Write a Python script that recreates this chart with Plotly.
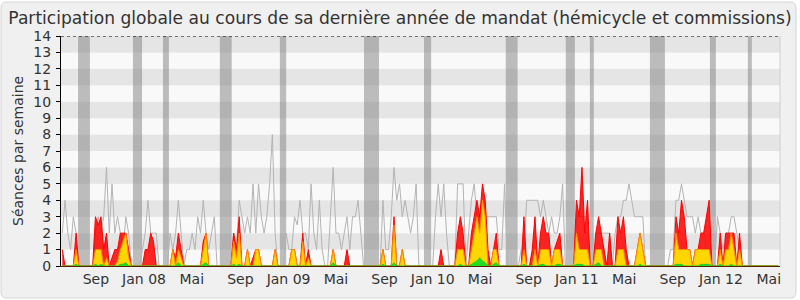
import pandas as pd
import plotly.graph_objects as go

# ---------------- data ----------------
start_week = "2007-06-08"

presences = [
 1,0,0,0,0,2,0,0,0,0, 0,0,3,2.5,3,1,2,0,0.5,1, 1,2,2,2,1,0,0,0,0,0,
 1,1,2,1.5,0,0,0,0,0,0, 1,0.5,2,1,0,0,0,0,0,0, 0,1.5,2,0,0,0,0,0,0,0,
 0,0,2,1,3,0,0,1,0,0.5, 1,1,0,0,0,0,0,1,0,0, 0,0,0,1,1,0,0,2,0,1,
 0,0,0,0,0,0,0,0,1,0, 0,0,0,1,0,0,0,0,0,0, 0,0,0,0,0,0,1,0,0,0,
 3,0,0,1,0,0,0,0,0,0, 0,0,0,0,0,0,0,1,0,0, 0,0,0,2,3,2,0,0,2,3,
 4,3,5,4,1,0,1,2,0,0, 0,0,0,0,0,0,0,3,0,0, 1,3,0,2,3,2,2,0,1,1.5,
 2,0,0,0,0,0,4,3,6,2, 4,0,0,2,3,2,1,0,2,0, 0,3,2,3,1,0,0,0,1,2,
 1,0,0,0,0,0,0,0,0,0, 0,0,3,2,4,3,1,1,0,1, 1,2,2,3,4,0,0,0,2,0,
 2,2,2,2,0,2,0,0,0,0, 0,0,0,0,0,0,0,0,0,0,
]
participations = [
 0,0,0,0,0,1,0,0,0,0, 0,0,1,1,1,0,0.5,0,0,0, 0.3,1,1.5,2,0.5,0,0,0,0,0,
 0,0,0,0,0,0,0,0,0,0, 1,0,1,0.5,0,0,0,0,0,0, 0,1,2,0,0,0,0,0,0,0,
 0,0,1.5,0.5,2,0,0,1,0,0, 1,1,0,0,0,0,0,1,0,0, 0,0,0,1,1,0,0,1.5,0,0.5,
 0,0,0,0,0,0,0,0,1,0, 0,0,0,0,0,0,0,0,0,0, 0,0,0,0,0,0,1,0,0,0,
 2.5,0,0,1,0,0,0,0,0,0, 0,0,0,0,0,0,0,0,0,0, 0,0,0,1,1,1,0,0,1,2,
 3,2,4,3,0,0,1,1,0,0, 0,0,0,0,0,0,0,1,0,0, 0,1,0,1,1,1,1,0,1,1,
 1,0,0,0,0,0,2,1,1,1, 1,0,0,1,1,1,0,0,0,0, 0,1,1,1,0,0,0,0,1,2,
 1,0,0,0,0,0,0,0,0,0, 0,0,2,1,1,1,1,1,0,1, 1,1,1,1,1,0,0,0,1,0,
 1,1,2,1,0,1,0,0,0,0, 0,0,0,0,0,0,0,0,0,0,
]
questions = [
 0,0,0,0,0,0.1,0,0,0,0, 0,0,0.1,0,0.1,0,0,0,0,0, 0,0.1,0.1,0.2,0,0,0,0,0,0,
 0,0,0,0,0,0,0,0,0,0, 0,0,0.2,0,0,0,0,0,0,0, 0,0.1,0.2,0,0,0,0,0,0,0,
 0,0,0.1,0,0.1,0,0,0,0,0, 0,0,0,0,0,0,0,0,0,0, 0,0,0,0,0,0,0,0,0,0,
 0,0,0,0,0,0,0,0,0.2,0, 0,0,0,0,0,0,0,0,0,0, 0,0,0,0,0,0,0.1,0,0,0,
 0.2,0,0,0,0,0,0,0,0,0, 0,0,0,0,0,0,0,0,0,0, 0,0,0,0,0.1,0,0,0,0.1,0.2,
 0.3,0.5,0.3,0.2,0,0,0.1,0.2,0,0, 0,0,0,0,0,0,0,0.1,0,0, 0,0,0,0.1,0.1,0,0,0,0,0.1,
 0.1,0,0,0,0,0,0.1,0.1,0.1,0, 0,0,0,0.1,0.2,0,0,0,0,0, 0,0,0,0,0,0,0,0,0,0.1,
 0,0,0,0,0,0,0,0,0,0, 0,0,0.1,0.1,0.1,0,0,0,0,0, 0,0.1,0.1,0.1,0.1,0,0,0,0.1,0,
 0,0,0.1,0,0,0,0,0,0,0, 0,0,0,0,0,0,0,0,0,0,
]
mediane = [
 2,4,2,1,3,2,0,0,0,0, 0,0,2,3,2,3,6,2,5,2, 3,2,1,3,2,0,0,0,0,1,
 2,4,2,2,2,0,0,0,0,2, 1,2,4,2,0,1,1,2,1,3, 2,4,2,1,2,3,0,0,0,0,
 0,0,2,1,4,3,2,3,2,5, 2,5,3,2,3,5,8,2,0,0, 0,2,1,1,3,2.5,4,2,2,1,
 5,2,1,4,1,0,0,3,6,2, 2,1,2,3,1,3,3,4,2,0, 0,0,0,0,0,0,4,1,1,3,
 6,4,5,3,4,3,2,3,5,0, 0,0,0,0,0,3,5,3,5,2, 0,0,0,5,5,5,0,2,4,5,
 3,3,3,3,3,3,3,3,1,1, 5,0,0,0,0,0,1,1,4,4, 4,4,4,3,4,3,2,3,2,2,
 3,5,0,0,0,0,3,3,3,3, 3,0,0,2,2,2,2,2,2,0, 2,3,3,4,4,5,4,3,3,3,
 3,0,0,0,0,0,0,0,0,0, 1,1,4,4,5,4,3,3,3,2, 3,2,2,1,0,0,0,3,2,1,
 2,2,3,3,2,1,0,0,0,0, 0,0,0,0,0,0,0,0,0,0,
]

vacances = [
 ("2007-07-18", "2007-08-17"), ("2007-12-04", "2007-12-27"), ("2008-02-18", "2008-03-04"),
 ("2008-07-11", "2008-08-10"), ("2008-12-10", "2008-12-26"), ("2009-07-11", "2009-08-18"),
 ("2009-12-10", "2009-12-28"), ("2010-07-05", "2010-08-04"), ("2010-12-04", "2010-12-27"),
 ("2011-02-03", "2011-02-13"), ("2011-07-05", "2011-08-12"), ("2011-12-04", "2011-12-19"),
 ("2012-03-09", "2012-03-19"),
]

tick_dates = ["2007-09-01", "2008-01-01", "2008-05-01", "2008-09-01", "2009-01-01",
              "2009-05-01", "2009-09-01", "2010-01-01", "2010-05-01", "2010-09-01",
              "2011-01-01", "2011-05-01", "2011-09-01", "2012-01-01", "2012-05-01"]
tick_labels = ["Sep", "Jan 08", "Mai", "Sep", "Jan 09", "Mai", "Sep", "Jan 10", "Mai",
               "Sep", "Jan 11", "Mai", "Sep", "Jan 12", "Mai"]

title = "Participation globale au cours de sa dernière année de mandat (hémicycle et commissions)"
ylabel = "Séances par semaine"

# ---------------- figure ----------------
weeks = pd.date_range(start_week, periods=len(presences), freq="7D")
FONT = "DejaVu Sans"

fig = go.Figure()
fig.add_trace(go.Scatter(x=weeks, y=mediane, mode="lines",
                         line=dict(color="#b4b4b4", width=1), hoverinfo="skip"))
fig.add_trace(go.Scatter(x=weeks, y=presences, mode="lines", fill="tozeroy",
                         fillcolor="rgba(255,0,0,0.85)",
                         line=dict(color="#ff0000", width=1), hoverinfo="skip"))
fig.add_trace(go.Scatter(x=weeks, y=participations, mode="lines", fill="tozeroy",
                         fillcolor="#ffd700",
                         line=dict(color="#ff8c00", width=1), hoverinfo="skip"))
fig.add_trace(go.Scatter(x=weeks, y=questions, mode="lines", fill="tozeroy",
                         fillcolor="#22dd22",
                         line=dict(color="#22cc22", width=1), hoverinfo="skip"))

shapes = []
# outer rounded panel
shapes.append(dict(type="path", xref="paper", yref="paper", layer="below",
                   path=("M -0.0765,1.1478 L 1.0153,1.1478 Q 1.0222,1.1478 1.0222,1.1217 "
                         "L 1.0222,-0.1130 Q 1.0222,-0.1391 1.0153,-0.1391 "
                         "L -0.0765,-0.1391 Q -0.0834,-0.1391 -0.0834,-0.1130 "
                         "L -0.0834,1.1217 Q -0.0834,1.1478 -0.0765,1.1478 Z"),
                   fillcolor="#f0f0f0", line=dict(color="#d4d4d4", width=1)))
# horizontal stripes
for k in range(14):
    shapes.append(dict(type="rect", xref="x domain", yref="y", x0=0, x1=1, y0=k, y1=k + 1,
                       layer="below", line=dict(width=0),
                       fillcolor="#e5e5e5" if k % 2 == 1 else "#f9f9f9"))
# vacation bands
for a, b in vacances:
    shapes.append(dict(type="rect", xref="x", yref="y", x0=a, x1=b, y0=0, y1=14,
                       layer="below", line=dict(width=0),
                       fillcolor="rgba(128,128,128,0.5)"))
# top dotted line
shapes.append(dict(type="line", xref="x domain", yref="y", x0=0, x1=1, y0=14, y1=14,
                   layer="above", line=dict(color="black", width=1, dash="dot")))
# right edge
shapes.append(dict(type="line", xref="x domain", yref="y", x0=1, x1=1, y0=0, y1=14,
                   layer="above", line=dict(color="#d0d0d0", width=1)))

fig.update_layout(
    width=800, height=300,
    margin=dict(l=61, r=20, t=36, b=34),
    paper_bgcolor="white", plot_bgcolor="#f9f9f9",
    showlegend=False,
    shapes=shapes,
    title=dict(text=title, x=0.5, xanchor="center", y=1 - 18 / 300, yanchor="middle",
               font=dict(family=FONT, size=17.1, color="#333333")),
    font=dict(family=FONT, color="#333333"),
    annotations=[dict(text=ylabel, xref="paper", yref="paper", x=-0.0598, y=0.5,
                      textangle=-90, showarrow=False, xanchor="center", yanchor="middle",
                      font=dict(family=FONT, size=14, color="#333333"))],
)
fig.update_xaxes(type="date", range=["2007-06-04 19:00", "2012-05-29 10:00"],
                 tickvals=tick_dates, ticktext=tick_labels, ticks="", showgrid=False,
                 zeroline=False, showline=True, linecolor="#552200", linewidth=1,
                 tickfont=dict(family=FONT, size=14, color="#333333"))
fig.update_yaxes(range=[0, 14], tickvals=list(range(15)), ticks="outside", ticklen=4,
                 tickcolor="black", showgrid=False, zeroline=False, showline=True,
                 linecolor="black", linewidth=1, ticklabelstandoff=2,
                 tickfont=dict(family=FONT, size=14, color="#333333"))

fig.write_html("out.html")
